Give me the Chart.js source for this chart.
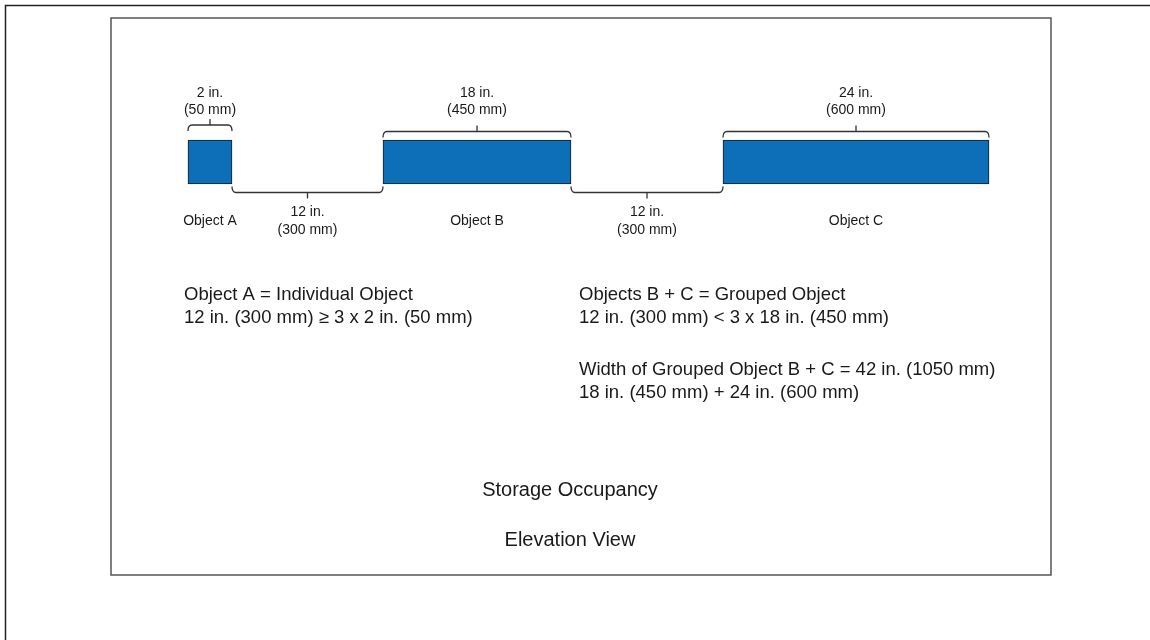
<!DOCTYPE html>
<html>
<head>
<meta charset="utf-8">
<title>Storage Occupancy - Elevation View</title>
<script src="https://cdn.jsdelivr.net/npm/chart.js@4.4.1/dist/chart.umd.min.js"></script>
<style>
  html, body { margin: 0; padding: 0; background: #fff; }
  #wrap { width: 1150px; height: 640px; }
</style>
</head>
<body>
<div id="wrap"><canvas id="elevChart" width="1150" height="640"></canvas></div>
<script>
// objects on the shelf (drawing units, schematic - not to scale)
const objectNames = ['Object A', 'Object B', 'Object C'];
const objectStart = [7.7, 27.2, 61.2];
const objectEnd = [12.1, 46.0, 87.8];
const objectInches = [2, 18, 24];
const objectMm = [50, 450, 600];
// clear space between neighbouring objects
const gapInches = [12, 12];
const gapMm = [300, 300];
const shelfLevel = 14.4;

const titleLines = ['Storage Occupancy', 'Elevation View'];

const FONT = "'Liberation Sans', Arial, sans-serif";
const INK = '#1a1a1a';

function dimText(i, mm) {
    return [i + ' in.', '(' + mm + ' mm)'];
}

// brace with the open side facing the bar, tick on the other side
function brace(ctx, x1, x2, y, dir) {
    // dir = 1 -> ends go down (brace above bar), -1 -> ends go up
    const h = 6 * dir, r = 4;
    ctx.beginPath();
    ctx.moveTo(x1, y + h);
    ctx.quadraticCurveTo(x1, y, x1 + r, y);
    ctx.lineTo(x2 - r, y);
    ctx.quadraticCurveTo(x2, y, x2, y + h);
    const mid = (x1 + x2) / 2;
    ctx.moveTo(mid, y);
    ctx.lineTo(mid, y - 6 * dir);
    ctx.stroke();
}

const framePlugin = {
    id: 'frame',
    beforeDraw(chart) {
        const { ctx, chartArea } = chart;
        ctx.save();
        ctx.fillStyle = '#fff';
        ctx.fillRect(0, 0, chart.width, chart.height);
        // outer sheet border (runs off the right and bottom edges)
        ctx.strokeStyle = '#222';
        ctx.lineWidth = 1.5;
        ctx.strokeRect(5.5, 5.5, chart.width + 20, chart.height + 20);
        // figure box
        ctx.strokeStyle = '#555';
        ctx.lineWidth = 1.5;
        ctx.strokeRect(chartArea.left, chartArea.top,
            chartArea.right - chartArea.left, chartArea.bottom - chartArea.top);
        ctx.restore();
    }
};

const notesPlugin = {
    id: 'notes',
    afterDatasetsDraw(chart) {
        const { ctx, scales: { x, y } } = chart;
        const meta = chart.getDatasetMeta(0);
        ctx.save();
        ctx.strokeStyle = '#333';
        ctx.lineWidth = 1.3;
        ctx.fillStyle = INK;
        ctx.textAlign = 'center';
        ctx.textBaseline = 'middle';
        ctx.font = '14px ' + FONT;

        meta.data.forEach((bar, i) => {
            const x1 = x.getPixelForValue(objectStart[i]);
            const x2 = x.getPixelForValue(objectEnd[i]);
            const top = bar.y - bar.height / 2;
            const bottom = bar.y + bar.height / 2;
            const mid = (x1 + x2) / 2;
            // narrow objects get their brace lifted a little
            const by = (x2 - x1) < 60 ? top - 15 : top - 8.5;
            brace(ctx, x1, x2, by, 1);
            const t = dimText(objectInches[i], objectMm[i]);
            ctx.fillText(t[0], mid, top - 47);
            ctx.fillText(t[1], mid, top - 30);
            ctx.fillText(objectNames[i], mid, bottom + 37);
        });

        // gaps between objects
        for (let g = 0; g < gapInches.length; g++) {
            const x1 = x.getPixelForValue(objectEnd[g]);
            const x2 = x.getPixelForValue(objectStart[g + 1]);
            const bottom = meta.data[g].y + meta.data[g].height / 2;
            const mid = (x1 + x2) / 2;
            brace(ctx, x1, x2, bottom + 8.5, -1);
            const t = dimText(gapInches[g], gapMm[g]);
            ctx.fillText(t[0], mid, bottom + 28);
            ctx.fillText(t[1], mid, bottom + 46);
        }

        // explanation text
        ctx.textAlign = 'left';
        ctx.font = '18.5px ' + FONT;
        const lh = 23;
        const leftNotes = [
            objectNames[0] + ' = Individual Object',
            `${gapInches[0]} in. (${gapMm[0]} mm) ≥ 3 x ${objectInches[0]} in. (${objectMm[0]} mm)`
        ];
        const rightNotes = [
            'Objects B + C = Grouped Object',
            `${gapInches[1]} in. (${gapMm[1]} mm) < 3 x ${objectInches[1]} in. (${objectMm[1]} mm)`
        ];
        const groupIn = objectInches[1] + objectInches[2];
        const groupMm = objectMm[1] + objectMm[2];
        const widthNotes = [
            `Width of Grouped Object B + C = ${groupIn} in. (${groupMm} mm)`,
            `${objectInches[1]} in. (${objectMm[1]} mm) + ${objectInches[2]} in. (${objectMm[2]} mm)`
        ];
        leftNotes.forEach((s, k) => ctx.fillText(s, 184, 295 + k * lh));
        rightNotes.forEach((s, k) => ctx.fillText(s, 579, 295 + k * lh));
        widthNotes.forEach((s, k) => ctx.fillText(s, 579, 370 + k * lh));

        // figure caption
        ctx.textAlign = 'center';
        ctx.font = '20px ' + FONT;
        ctx.fillText(titleLines[0], 570, 490);
        ctx.fillText(titleLines[1], 570, 540);
        ctx.restore();
    }
};

const ctx = document.getElementById('elevChart').getContext('2d');
const chart = new Chart(ctx, {
    type: 'bar',
    data: {
        labels: objectNames,
        datasets: [{
            label: 'Objects',
            data: objectNames.map((n, i) => ({ x: [objectStart[i], objectEnd[i]], y: shelfLevel })),
            backgroundColor: '#0d6fb8',
            borderColor: INK,
            borderWidth: 1,
            borderSkipped: false,
            barThickness: 44
        }]
    },
    options: {
        indexAxis: 'y',
        responsive: false,
        animation: false,
        layout: {
            padding: { top: 18, left: 111, right: 99, bottom: 65 }
        },
        scales: {
            x: { type: 'linear', min: 0, max: 94, offset: false, display: false },
            y: { type: 'linear', min: 0, max: 55.7, offset: false, reverse: true, display: false }
        },
        plugins: {
            legend: { display: false },
            tooltip: { enabled: false }
        }
    },
    plugins: [framePlugin, notesPlugin]
});
</script>
</body>
</html>
